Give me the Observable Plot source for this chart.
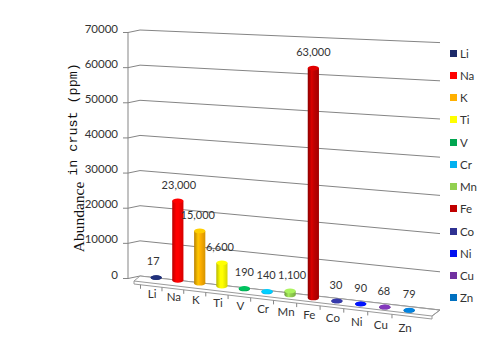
<!DOCTYPE html>
<html><head><meta charset="utf-8">
<script src="https://cdn.jsdelivr.net/npm/d3@7"></script>
<script src="https://cdn.jsdelivr.net/npm/@observablehq/plot@0.6"></script>
<style>
html,body{margin:0;padding:0;background:#fff;}
#chart{position:relative;width:487px;height:355px;overflow:hidden;font-family:Lato,"Open Sans",sans-serif;}
#chart svg{position:absolute;left:0;top:0;}
.item{position:absolute;left:450px;height:14px;display:flex;align-items:center;font-size:11.5px;color:#333;white-space:nowrap;font-family:Lato,sans-serif;}
.sw{width:7px;height:7px;margin-right:3px;}
</style></head><body>
<div id="chart"></div>
<script>
// ---- data ----
const elements = ["Li","Na","K","Ti","V","Cr","Mn","Fe","Co","Ni","Cu","Zn"];
const abundance = [17, 23000, 15000, 6600, 190, 140, 1100, 63000, 30, 90, 68, 79];
const valueLabels = ["17","23,000","15,000","6,600","190","140","1,100","63,000","30","90","68","79"];
const colors = ["#1c2a6a","#ff0000","#ffb000","#ffff00","#00a550","#00b0f0","#92d050","#c00000","#2e3192","#0010f0","#7030a0","#0070c0"];
const yTicks = [0, 10000, 20000, 30000, 40000, 50000, 60000, 70000];
const yTickLabels = ["0","10000","20000","30000","40000","50000","60000","70000"];
const yTitleA = "Abundance";
const yTitleB = "in crust (ppm)";

const data = elements.map((el, i) => ({
  el, v: abundance[i], label: valueLabels[i], color: colors[i],
  cap: d3.color(colors[i]).brighter(0.45).formatHex()
}));

// ellipse symbol for cylinder caps
const ellipse = {
  draw(ctx, size) {
    const rx = Math.sqrt(size / Math.PI), ry = rx * 0.42, k = 0.5523;
    ctx.moveTo(rx, 0);
    ctx.bezierCurveTo(rx, ry * k, rx * k, ry, 0, ry);
    ctx.bezierCurveTo(-rx * k, ry, -rx, ry * k, -rx, 0);
    ctx.bezierCurveTo(-rx, -ry * k, -rx * k, -ry, 0, -ry);
    ctx.bezierCurveTo(rx * k, -ry, rx, -ry * k, rx, 0);
    ctx.closePath();
  }
};

const grid = "#858585", ink = "#333";
const marks = [
  Plot.ruleY(yTicks, {stroke: grid}),                                   // 0 wall gridlines
  Plot.ruleY(yTicks, {stroke: grid}),                                   // 1 tick stubs
  Plot.ruleY(yTicks, {stroke: grid}),                                   // 2 side diagonals
  Plot.ruleX([elements[0]], {x: d => d, y1: 0, y2: 70000, stroke: grid}), // 3 axis line
  Plot.ruleX(elements, {x: d => d, y1: 0, y2: 0, stroke: grid}),        // 4 floor ticks
  Plot.dot(data, {x: "el", y: 0, symbol: ellipse, r: 5.6, fill: "color"}),          // 5 base
  Plot.barY(data, {x: "el", y: "v", fill: "color"}),                    // 6 cylinder body
  Plot.dot(data, {x: "el", y: "v", symbol: ellipse, r: 5.6, fill: "cap"}),          // 7 top cap
  Plot.text(data, {x: "el", y: "v", text: "label", fill: ink, fontSize: 11}),       // 8 value labels
  Plot.text(data, {x: "el", y: 0, text: "el", fill: ink}),              // 9 category labels
  Plot.text(yTicks, {y: d => d, frameAnchor: "left", text: (d, i) => yTickLabels[i], textAnchor: "end", fill: ink}) // 10
];

const plot = Plot.plot({
  width: 487, height: 355,
  marginLeft: 140, marginRight: 61, marginTop: 30, marginBottom: 79,
  x: {domain: elements, range: [140, 426], padding: 0, axis: null},
  y: {domain: [0, 70000], axis: null},
  color: {type: "identity"},
  style: {fontFamily: "Lato, 'Open Sans', sans-serif", fontSize: "11.5px", background: "transparent", overflow: "visible"},
  marks
});
document.getElementById("chart").appendChild(plot);

// ---- perspective projection applied on top of Plot's scales ----
const xs = plot.scale("x"), ys = plot.scale("y");
const bw = xs.bandwidth;
const xmap = x => x - 2.6e-4 * (x - 152) * (414 - x);   // horizontal foreshortening
const cx = d => xmap(xs.apply(d) + bw / 2);
const y0 = ys.apply(0);
const hpx = v => y0 - ys.apply(v);
const WALL = {x0: 140, x1: 440, a0: 276, a1: 310, m0: 1.0, m1: 1.087};
const BAR  = {x0: 152, x1: 414, a0: 277, a1: 311, m0: 0.973, m1: 1.079};
function proj(p, px, v) {
  const t = (px - p.x0) / (p.x1 - p.x0);
  return p.a0 + t * (p.a1 - p.a0) - hpx(v) * (p.m0 + t * (p.m1 - p.m0));
}
const axisY = v => ys.apply(v) + 2.5;
const front = x => 281 + (316 - 281) * (x - 134) / (432 - 134);

const groups = Array.from(plot.children).filter(n => n.tagName.toLowerCase() === "g");
const kids = g => Array.from(g.querySelectorAll("line,rect,path,text,circle"));
const setA = (el, o) => { for (const k in o) el.setAttribute(k, o[k]); };
const place = (el, x, y) => { el.removeAttribute("x"); el.removeAttribute("y"); el.setAttribute("transform", `translate(${x},${y})`); };
groups.forEach(g => g.removeAttribute("transform"));

kids(groups[0]).forEach((l, i) => setA(l, {x1: 140, x2: 440, y1: proj(WALL, 140, yTicks[i]), y2: proj(WALL, 440, yTicks[i])}));
kids(groups[1]).forEach((l, i) => setA(l, {x1: 123, x2: 128, y1: axisY(yTicks[i]), y2: axisY(yTicks[i])}));
kids(groups[2]).forEach((l, i) => setA(l, {x1: 128, x2: 140, y1: axisY(yTicks[i]), y2: proj(WALL, 140, yTicks[i])}));
kids(groups[3]).forEach(l => setA(l, {x1: 128, x2: 128, y1: axisY(0), y2: axisY(70000)}));
kids(groups[4]).forEach((l, i) => { const x = xmap(xs.apply(elements[i])) - 5; setA(l, {x1: x, x2: x, y1: front(x) + 3, y2: front(x) + 7}); });

// floor slab
const floor = document.createElementNS("http://www.w3.org/2000/svg", "path");
setA(floor, {d: `M140,${proj(WALL,140,0)}L440,${proj(WALL,440,0)}L432,${front(432)}L432,${front(432)+3}L134,${front(134)+3}L134,${front(134)}Z M134,${front(134)}L432,${front(432)}L440,${proj(WALL,440,0)}`, fill: "#fff", stroke: "#9a9a9a", "stroke-width": 1});
plot.insertBefore(floor, groups[4]);

// gradients for cylinders
const defs = document.createElementNS("http://www.w3.org/2000/svg", "defs");
defs.innerHTML = colors.map((c, i) => {
  const dk = d3.color(c).darker(0.9).formatHex(), dk2 = d3.color(c).darker(0.5).formatHex(), lt = d3.color(c).brighter(0.35).formatHex();
  return `<linearGradient id="cyl${i}" x1="0" x2="1" y1="0" y2="0"><stop offset="0" stop-color="${dk}"/><stop offset="0.35" stop-color="${lt}"/><stop offset="0.55" stop-color="${c}"/><stop offset="1" stop-color="${dk2}"/></linearGradient>`;
}).join("");
plot.insertBefore(defs, plot.firstChild);

kids(groups[5]).forEach((p, i) => { const x = cx(elements[i]); p.setAttribute("transform", `translate(${x},${proj(BAR, x, 0)})`); p.setAttribute("fill", `url(#cyl${i})`); });
kids(groups[6]).forEach((r, i) => {
  const x = cx(elements[i]), b = proj(BAR, x, 0), t = proj(BAR, x, abundance[i]);
  setA(r, {x: x - 5.6, width: 11.2, y: t, height: Math.max(0, b - t), fill: `url(#cyl${i})`});
});
kids(groups[7]).forEach((p, i) => { const x = cx(elements[i]); p.setAttribute("transform", `translate(${x},${proj(BAR, x, abundance[i])})`); });
const labelNudge = [-3, 1, -2, -2, 0, -1, 2, 0, -1, 0, -1, 0];
kids(groups[8]).forEach((t, i) => { const x = cx(elements[i]); place(t, x + labelNudge[i], proj(BAR, x, abundance[i]) - 12); });
kids(groups[9]).forEach((t, i) => { const x = cx(elements[i]) - 4; place(t, x, 297 + 0.137 * (x - 148)); });
kids(groups[10]).forEach((t, i) => place(t, 118, axisY(yTicks[i])));

// axis title (two type faces as in the original)
const NS = "http://www.w3.org/2000/svg";
const tA = document.createElementNS(NS, "text");
setA(tA, {transform: "translate(84,217) rotate(-90)", "text-anchor": "middle", "font-family": "'Liberation Serif','DejaVu Serif',serif", "font-size": 15.5, fill: "#111"});
tA.textContent = yTitleA; plot.appendChild(tA);
const tB = document.createElementNS(NS, "text");
setA(tB, {transform: "translate(77,119.5) rotate(-90)", "text-anchor": "middle", "font-family": "'Liberation Mono','DejaVu Sans Mono',monospace", "font-size": 13.4, fill: "#111"});
tB.textContent = yTitleB; plot.appendChild(tB);

// legend
const chart = document.getElementById("chart");
elements.forEach((el, i) => {
  const d = document.createElement("div");
  d.className = "item";
  d.style.top = (53 + 22.25 * i - 7) + "px";
  d.innerHTML = `<span class="sw" style="background:${colors[i]}"></span><span>${el}</span>`;
  chart.appendChild(d);
});
</script>
</body></html>
